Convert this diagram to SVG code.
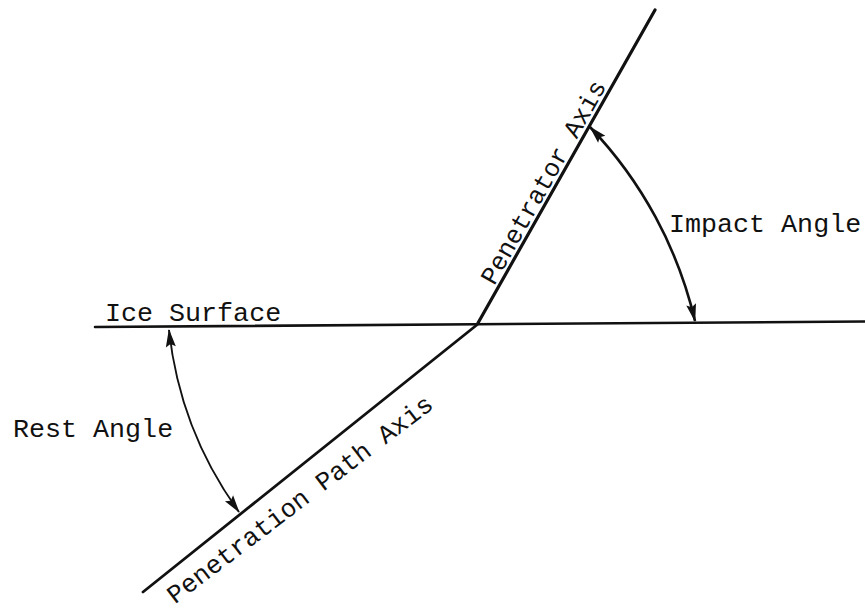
<svg xmlns="http://www.w3.org/2000/svg" width="865" height="613" viewBox="0 0 865 613">
<style>
.ax{stroke:#111;fill:none;stroke-linecap:round}
.arc{stroke:#111;fill:none}
.t{font-family:"Liberation Mono","DejaVu Sans Mono",monospace;font-size:26.7px;fill:#111}
</style>
<defs>
<marker id="ah" markerUnits="userSpaceOnUse" markerWidth="24" markerHeight="14" viewBox="-20 -7 24 14" refX="0" refY="0" orient="auto-start-reverse">
<path d="M1,0 L-17,-5 L-14,0 L-17,5 Z" fill="#111"/>
</marker>
</defs>
<rect width="865" height="613" fill="#fff"/>
<g id="connectors">
<line id="ice-surface-line" class="ax" x1="95" y1="327" x2="865" y2="321.5" stroke-width="2.6"/>
<line id="penetrator-axis-line" class="ax" x1="478" y1="323" x2="655" y2="10" stroke-width="3.2"/>
<line id="path-axis-line" class="ax" x1="478" y1="324" x2="143" y2="592" stroke-width="2.8"/>
<path id="impact-arc" class="arc" d="M590,127 A420,420 0 0 1 695,321" stroke-width="2.6" marker-start="url(#ah)" marker-end="url(#ah)"/>
<path id="rest-arc" class="arc" d="M169,330 A380,380 0 0 0 239,512" stroke-width="1.9" marker-start="url(#ah)" marker-end="url(#ah)"/>
</g>
<g id="ice-surface"><text class="t" x="105" y="321">Ice Surface</text></g>
<g id="rest-angle"><text class="t" x="13" y="437">Rest Angle</text></g>
<g id="impact-angle"><text class="t" x="669" y="232">Impact Angle</text></g>
<g id="penetrator-axis"><text class="t" style="font-size:25.5px" transform="translate(494.2,286.2) rotate(-60.6)">Penetrator Axis</text></g>
<g id="penetration-path-axis"><text class="t" style="font-size:25.9px" transform="translate(175,604.5) rotate(-37.2)">Penetration Path Axis</text></g>
</svg>
